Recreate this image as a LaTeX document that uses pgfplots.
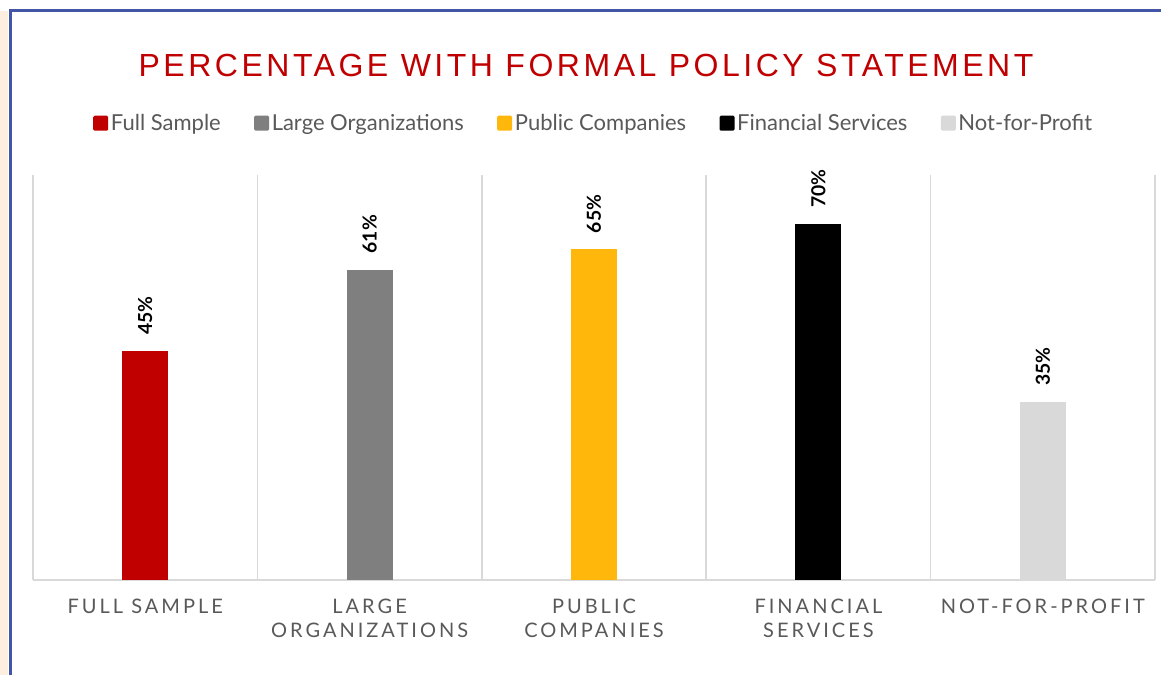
\documentclass[border=0pt]{standalone}
\usepackage{pgfplots}
\pgfplotsset{compat=1.18}
\usepackage{fontspec}
\setmainfont{Lato}
\newfontfamily\titlefont[LetterSpace=11]{Liberation Sans}
\newfontfamily\tickfont[LetterSpace=15]{Lato}
\definecolor{cRed}{HTML}{C00000}
\definecolor{cGray}{HTML}{7F7F7F}
\definecolor{cGold}{HTML}{FFB70B}
\definecolor{cLight}{HTML}{D9D9D9}
\definecolor{cGrid}{HTML}{D9D9D9}
\definecolor{cText}{HTML}{595959}
\definecolor{cBorder}{HTML}{4455A6}
\definecolor{cPeach}{HTML}{FCEFE0}
\pgfplotsset{mybar/.style={ybar, bar width=34.5pt, bar shift=0pt, fill=#1, draw=none,
  legend image code/.code={\fill[fill=#1, rounded corners=1pt] (0pt,-5.6pt) rectangle (11.25pt,5.6pt);}}}
\pgfplotstableread{
x y
0 45
}\tFull
\pgfplotstableread{
x y
1 61
}\tLarge
\pgfplotstableread{
x y
2 65
}\tPublic
\pgfplotstableread{
x y
3 70
}\tFin
\pgfplotstableread{
x y
4 35
}\tNfp
\begin{document}
\begin{tikzpicture}
\path[use as bounding box] (0,0) rectangle (870.75pt,506.25pt);
\fill[white] (0,0) rectangle (870.75pt,506.25pt);
\fill[cPeach] (0,0) rectangle (6.2pt,498pt);
\draw[cBorder, line width=2.4pt] (7.6pt,0) -- (7.6pt,498.6pt) -- (870.75pt,498.6pt);
\node[font=\titlefont\fontsize{24}{28}\selectfont, text=cRed] at (439.5pt,457.5pt) {PERCENTAGE WITH FORMAL POLICY STATEMENT};
\begin{axis}[
  at={(24.75pt,71.25pt)}, anchor=south west, scale only axis,
  width=841.5pt, height=303.75pt,
  xmin=-0.5, xmax=4.5, ymin=0, ymax=79.6,
  axis y line=none, axis x line*=bottom,
  x axis line style={draw=cGrid, line width=1.5pt},
  xtick={0,1,2,3,4},
  xticklabels={FULL SAMPLE, LARGE\\ORGANIZATIONS, PUBLIC\\COMPANIES, FINANCIAL\\SERVICES, NOT-FOR-PROFIT},
  major tick length=0pt, minor tick length=0pt,
  minor xtick={-0.5,0.5,1.5,2.5,3.5,4.5},
  xminorgrids, minor grid style={draw=cGrid, line width=1.1pt},
  xticklabel style={font=\tickfont\fontsize{15}{18}\selectfont, text=cText, align=center, anchor=north, yshift=-10.5pt},
  nodes near coords={\pgfmathprintnumber[assume math mode=true]{\pgfplotspointmeta}\%},
  nodes near coords style={font=\bfseries\fontsize{14.5}{17}\selectfont, rotate=90, anchor=west, inner xsep=12pt, text=black},
  legend columns=5,
  legend style={at={(0.5,1.128)}, anchor=center, draw=none, fill=none,
    font=\fontsize{16.5}{19}\selectfont, text=cText,
    /tikz/every even column/.append style={column sep=23pt},
    legend cell align=left},
]
\addplot[mybar=cRed] table[x=x,y=y] {\tFull};
\addlegendentry{Full Sample}
\addplot[mybar=cGray] table[x=x,y=y] {\tLarge};
\addlegendentry{Large Organizations}
\addplot[mybar=cGold] table[x=x,y=y] {\tPublic};
\addlegendentry{Public Companies}
\addplot[mybar=black] table[x=x,y=y] {\tFin};
\addlegendentry{Financial Services}
\addplot[mybar=cLight] table[x=x,y=y] {\tNfp};
\addlegendentry{Not-for-Profit}
\end{axis}
\end{tikzpicture}
\end{document}
